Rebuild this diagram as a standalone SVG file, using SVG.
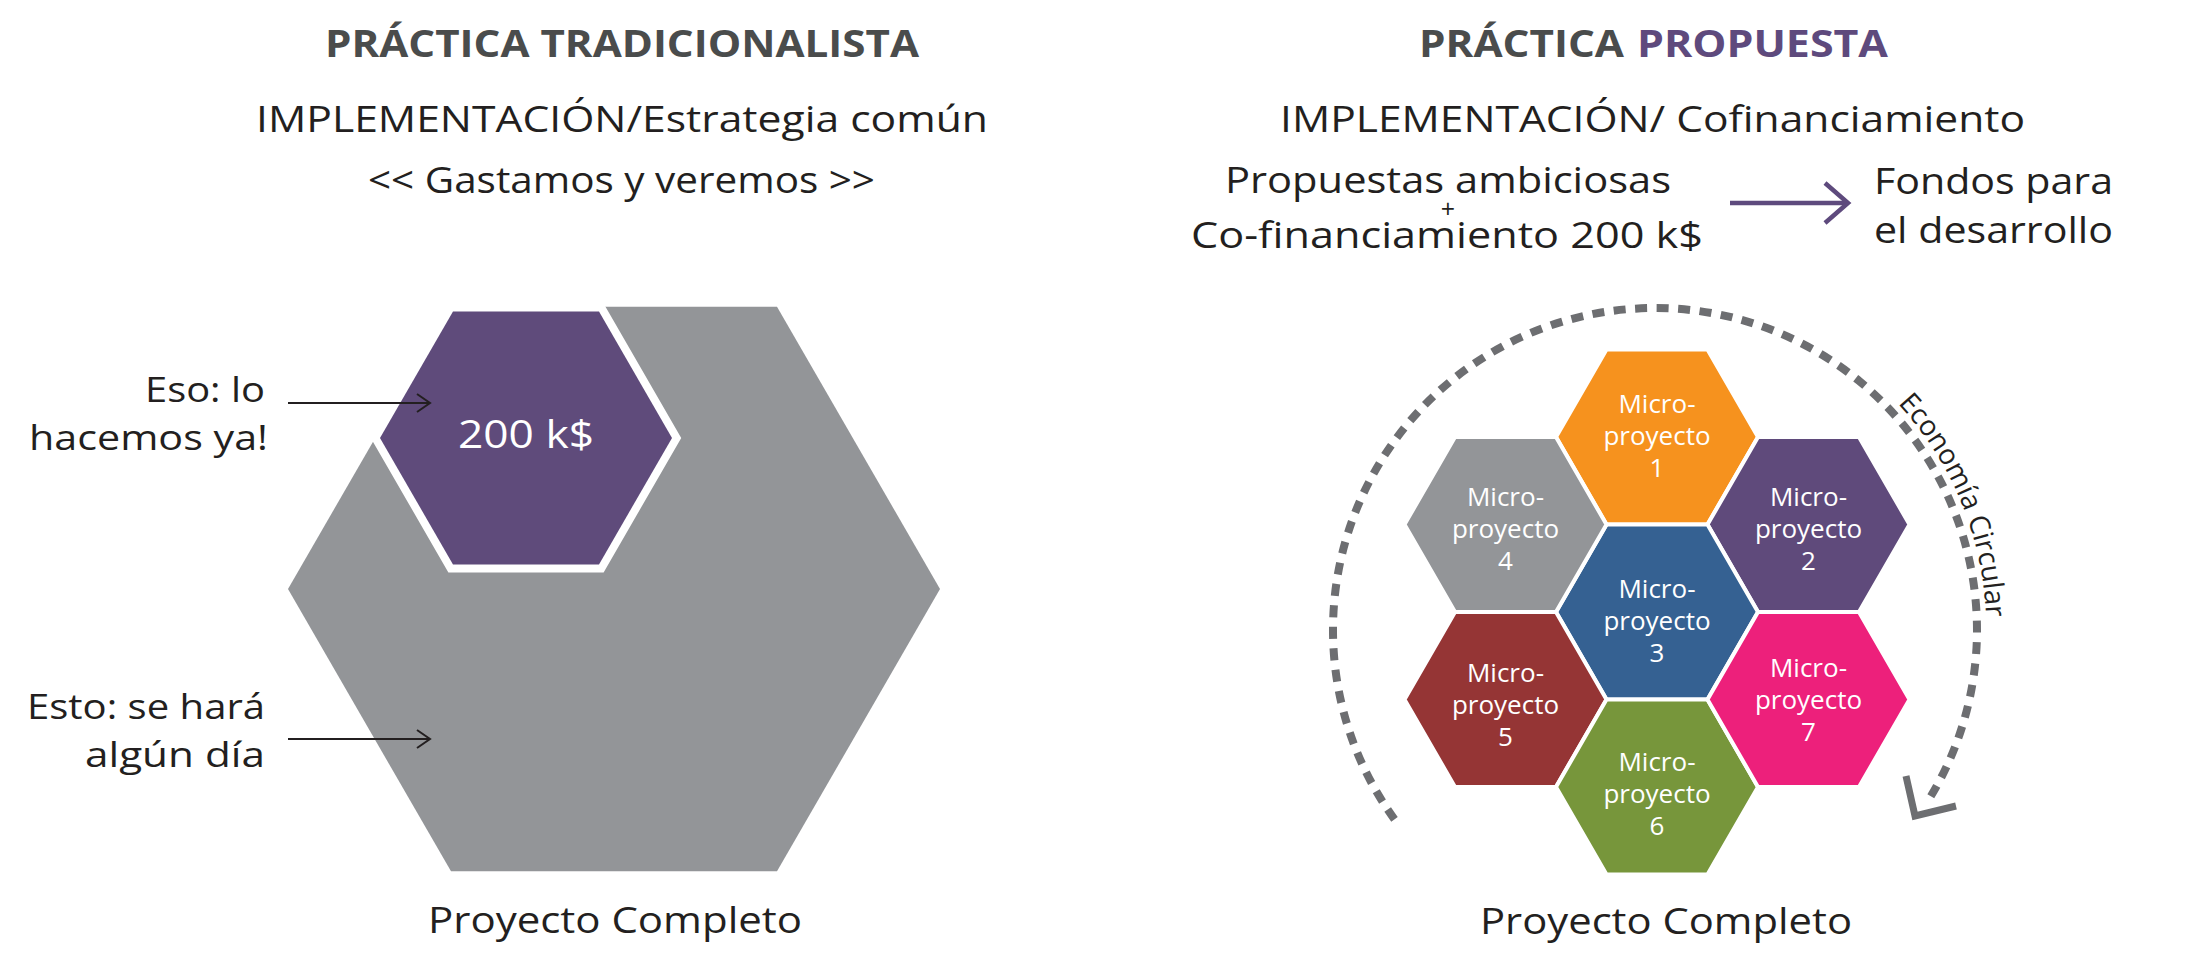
<svg xmlns="http://www.w3.org/2000/svg" xmlns:xlink="http://www.w3.org/1999/xlink" width="2211" height="955" viewBox="0 0 2211 955">
<style>
  text { font-family: "Open Sans", "Liberation Sans", sans-serif; fill: #231f20; }
  .title { font-size: 37px; font-weight: 700; fill: #4a4c4c; }
  .sub { font-size: 36px; }
  .lbl { font-size: 34px; text-anchor: end; }
  .hx text { font-size: 26px; fill: #ffffff; text-anchor: middle; }
  .mh { stroke: #ffffff; stroke-width: 4; stroke-linejoin: miter; }
  .dots { fill: none; stroke: #6d6e71; stroke-width: 8; stroke-dasharray: 12 9.5; }
</style>
<defs>
  <path id="mhex" d="M101,0 L50.5,87.5 L-50.5,87.5 L-101,0 L-50.5,-87.5 L50.5,-87.5 Z"/>
  <marker id="chev" viewBox="-16 -12 20 24" markerWidth="20" markerHeight="24" refX="0" refY="0" orient="auto" markerUnits="userSpaceOnUse">
    <path d="M-13,-9 L0,0 L-13,9" fill="none" stroke="#231f20" stroke-width="2"/>
  </marker>
  <path id="ecpath" d="M1897.8,403.6 A331,331 0 0 1 1978.7,698.8" fill="none"/>
</defs>
<rect x="0" y="0" width="2211" height="955" fill="#ffffff"/>

<!-- Left headings -->
<g id="left-headings">
  <text class="title" x="325" y="57" textLength="594" lengthAdjust="spacingAndGlyphs">PRÁCTICA TRADICIONALISTA</text>
  <text class="sub" x="256" y="132" textLength="732" lengthAdjust="spacingAndGlyphs">IMPLEMENTACIÓN/Estrategia común</text>
  <text class="sub" x="368" y="193" textLength="507" lengthAdjust="spacingAndGlyphs">&lt;&lt; Gastamos y veremos &gt;&gt;</text>
</g>

<!-- Right headings -->
<g id="right-headings">
  <text class="title" x="1419" y="57" textLength="205" lengthAdjust="spacingAndGlyphs">PRÁCTICA</text>
  <text class="title" x="1637" y="57" textLength="251" lengthAdjust="spacingAndGlyphs" style="fill:#5e4a7d">PROPUESTA</text>
  <text class="sub" x="1280" y="132" textLength="745" lengthAdjust="spacingAndGlyphs">IMPLEMENTACIÓN/ Cofinanciamiento</text>
  <text class="sub" x="1225" y="193" textLength="446" lengthAdjust="spacingAndGlyphs">Propuestas ambiciosas</text>
  <text x="1448" y="218" style="font-size:25px" text-anchor="middle">+</text>
  <text class="sub" x="1191" y="248" textLength="512" lengthAdjust="spacingAndGlyphs">Co-financiamiento 200 k$</text>
</g>
<g id="fondos">
  <text class="sub" x="1874" y="194" textLength="239" lengthAdjust="spacingAndGlyphs">Fondos para</text>
  <text class="sub" x="1874" y="243" textLength="239" lengthAdjust="spacingAndGlyphs">el desarrollo</text>
</g>

<!-- Left: big project hexagon -->
<g id="proyecto-completo-left">
  <polygon points="940,589 777,871.3 451,871.3 288,589 451,306.7 777,306.7" fill="#939598"/>
  <text x="615" y="933" style="font-size:36px" text-anchor="middle" textLength="374" lengthAdjust="spacingAndGlyphs">Proyecto Completo</text>
</g>
<g id="hex-200k">
  <polygon points="672,438 599,564.4 453,564.4 380,438 453,311.6 599,311.6" fill="#5f4b7b" stroke="#ffffff" stroke-width="16" stroke-linejoin="miter" paint-order="stroke"/>
  <text x="526" y="448" style="font-size:38px; fill:#ffffff" text-anchor="middle" textLength="136" lengthAdjust="spacingAndGlyphs">200 k$</text>
</g>
<g id="label-eso">
  <text class="lbl" x="265" y="402" textLength="120" lengthAdjust="spacingAndGlyphs">Eso: lo</text>
  <text class="lbl" x="268" y="450" textLength="239" lengthAdjust="spacingAndGlyphs">hacemos ya!</text>
</g>
<g id="label-esto">
  <text class="lbl" x="265" y="719" textLength="238" lengthAdjust="spacingAndGlyphs">Esto: se hará</text>
  <text class="lbl" x="265" y="767" textLength="180" lengthAdjust="spacingAndGlyphs">algún día</text>
</g>

<!-- Right: micro-project cluster -->
<g id="micro-1" class="hx">
  <use xlink:href="#mhex" href="#mhex" class="mh" transform="translate(1657,437)" fill="#f6921e"/>
  <text x="1657" y="413">Micro-</text><text x="1657" y="445">proyecto</text><text x="1657" y="477">1</text>
</g>
<g id="micro-2" class="hx">
  <use xlink:href="#mhex" href="#mhex" class="mh" transform="translate(1808.5,524.5)" fill="#5f4a7b"/>
  <text x="1808.5" y="505.5">Micro-</text><text x="1808.5" y="537.5">proyecto</text><text x="1808.5" y="569.5">2</text>
</g>
<g id="micro-3" class="hx">
  <use xlink:href="#mhex" href="#mhex" class="mh" transform="translate(1657,612)" fill="#356192"/>
  <text x="1657" y="598">Micro-</text><text x="1657" y="630">proyecto</text><text x="1657" y="662">3</text>
</g>
<g id="micro-4" class="hx">
  <use xlink:href="#mhex" href="#mhex" class="mh" transform="translate(1505.5,524.5)" fill="#939598"/>
  <text x="1505.5" y="505.5">Micro-</text><text x="1505.5" y="537.5">proyecto</text><text x="1505.5" y="569.5">4</text>
</g>
<g id="micro-5" class="hx">
  <use xlink:href="#mhex" href="#mhex" class="mh" transform="translate(1505.5,699.5)" fill="#953535"/>
  <text x="1505.5" y="681.5">Micro-</text><text x="1505.5" y="713.5">proyecto</text><text x="1505.5" y="745.5">5</text>
</g>
<g id="micro-6" class="hx">
  <use xlink:href="#mhex" href="#mhex" class="mh" transform="translate(1657,787)" fill="#77963b"/>
  <text x="1657" y="771">Micro-</text><text x="1657" y="803">proyecto</text><text x="1657" y="835">6</text>
</g>
<g id="micro-7" class="hx">
  <use xlink:href="#mhex" href="#mhex" class="mh" transform="translate(1808.5,699.5)" fill="#ed207b"/>
  <text x="1808.5" y="677">Micro-</text><text x="1808.5" y="709">proyecto</text><text x="1808.5" y="741">7</text>
</g>
<g id="proyecto-completo-right">
  <text x="1666" y="934" style="font-size:36px" text-anchor="middle" textLength="372" lengthAdjust="spacingAndGlyphs">Proyecto Completo</text>
</g>
<g id="economia-circular">
  <text style="font-size:28px"><textPath xlink:href="#ecpath" href="#ecpath" startOffset="0" textLength="236" lengthAdjust="spacingAndGlyphs">Economía Circular</textPath></text>
</g>

<!-- Connectors -->
<g id="connectors">
  <line x1="288" y1="403" x2="430" y2="403" stroke="#231f20" stroke-width="2" marker-end="url(#chev)"/>
  <line x1="288" y1="739" x2="430" y2="739" stroke="#231f20" stroke-width="2" marker-end="url(#chev)"/>
  <line x1="1730" y1="203" x2="1846" y2="203" stroke="#5e4a7d" stroke-width="4.5"/>
  <polyline points="1825,183 1848,203 1825,223" fill="none" stroke="#5e4a7d" stroke-width="4.5" stroke-linejoin="miter"/>
  <path class="dots" d="M1394.5,819.3 A322,322 0 1 1 1928.1,800.6"/>
  <polyline points="1906,776 1915,816 1956,806" fill="none" stroke="#6d6e71" stroke-width="7" stroke-linejoin="miter"/>
</g>
</svg>
